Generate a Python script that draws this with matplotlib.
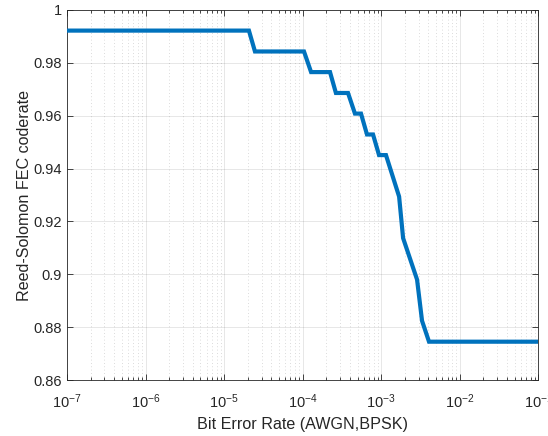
import matplotlib
matplotlib.use("Agg")
import matplotlib.pyplot as plt
from matplotlib.ticker import LogLocator, NullFormatter

# BER points (vertices of the stepped line)
ber = [1e-7, 2.07e-5, 2.47e-5, 1.04e-4, 1.28e-4, 2.23e-4, 2.65e-4,
       3.78e-4, 4.63e-4, 5.53e-4, 6.59e-4, 7.87e-4, 9.38e-4, 1.15e-3,
       1.69e-3, 1.90e-3, 2.86e-3, 3.31e-3, 4.06e-3, 1e-1]
# code rate at each BER point
coderate = [0.9922, 0.9922, 0.9843, 0.9843, 0.9765, 0.9765, 0.9686,
            0.9686, 0.9608, 0.9608, 0.9529, 0.9529, 0.9451, 0.9451,
            0.9294, 0.9137, 0.8980, 0.8824, 0.8745, 0.8745]

yticks = [0.86, 0.88, 0.9, 0.92, 0.94, 0.96, 0.98, 1]
ytick_labels = ["0.86", "0.88", "0.9", "0.92", "0.94", "0.96", "0.98", "1"]

plt.rcParams["font.family"] = ["Liberation Sans", "DejaVu Sans"]
plt.rcParams["mathtext.default"] = "regular"

ink = (0.15, 0.15, 0.15)

fig = plt.figure(figsize=(5.48, 4.36), dpi=100)
ax = fig.add_axes([0.1223, 0.1284, 0.8600, 0.8487])

ax.semilogx(ber, coderate, color=(0.0, 0.447, 0.741), linewidth=3.0,
            solid_joinstyle="miter", zorder=3)

ax.set_xlim(1e-7, 1e-1)
ax.set_ylim(0.86, 1.0)
ax.set_yticks(yticks)
ax.set_yticklabels(ytick_labels)
ax.xaxis.set_major_locator(LogLocator(base=10, numticks=10))
ax.xaxis.set_minor_locator(LogLocator(base=10, subs=range(2, 10), numticks=100))
ax.xaxis.set_minor_formatter(NullFormatter())

# MATLAB-like grid
ax.grid(True, which="major", axis="both", color=ink, alpha=0.13,
        linewidth=0.6, linestyle="-")
ax.grid(True, which="minor", axis="x", color=ink, alpha=0.22,
        linewidth=0.6, linestyle=(0, (1, 3)))

ax.tick_params(which="both", direction="in", top=True, right=True,
               colors=ink, labelcolor=ink, labelsize=10.5)
ax.tick_params(which="major", length=4, width=0.6)
ax.tick_params(which="minor", length=2.5, width=0.6)
ax.tick_params(axis="x", pad=9)
for sp in ax.spines.values():
    sp.set_color(ink)
    sp.set_linewidth(0.6)

ax.set_xlabel("Bit Error Rate (AWGN,BPSK)", fontsize=11.6, color=ink, labelpad=4)
ax.set_ylabel("Reed-Solomon FEC coderate", fontsize=11.6, color=ink, labelpad=1)

fig.savefig("out.png", dpi=100)
